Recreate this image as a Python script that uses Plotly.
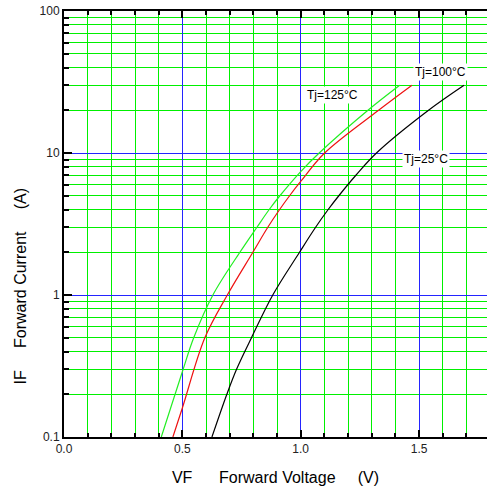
import math
import plotly.graph_objects as go

# Forward voltage (V) / forward current (A)
vf_125 = [0.411, 0.50, 0.548, 0.629, 0.743, 0.815, 0.867, 0.912, 1.0, 1.078, 1.284, 1.418]
if_125 = [0.1, 0.288, 0.5, 1.0, 2.0, 3.0, 4.0, 5.0, 7.4, 10.0, 20.0, 30.0]

vf_100 = [0.460, 0.50, 0.595, 0.690, 0.798, 0.861, 0.911, 0.953, 1.0, 1.101, 1.329, 1.47]
if_100 = [0.1, 0.16, 0.5, 1.0, 2.0, 3.0, 4.0, 5.0, 6.3, 10.0, 20.0, 30.0]

vf_25 = [0.625, 0.688, 0.729, 0.792, 0.882, 0.995, 1.063, 1.116, 1.161, 1.234, 1.320, 1.540, 1.69]
if_25 = [0.1, 0.2, 0.3, 0.5, 1.0, 2.0, 3.0, 4.0, 5.0, 7.0, 10.0, 20.0, 30.0]

labels = ["Tj=125°C", "Tj=100°C", "Tj=25°C"]
label_x = [1.135, 1.591, 1.528]
label_y = [25.6, 37.2, 9.04]

# axis ticks / gridlines
x_minor = [round(0.1 * k, 1) for k in range(0, 18)]
x_major = [0.5, 1.0, 1.5]
x_labels = {0.0: "0.0", 0.5: "0.5", 1.0: "1.0", 1.5: "1.5"}
y_minor = [m * 10 ** e for e in (-1, 0, 1) for m in range(1, 10)] + [100]
y_major = [1, 10]
y_labels = {0.1: "0.1", 1: "1", 10: "10", 100: "100"}

FONT = "Liberation Sans, Arial, sans-serif"
GREEN = "#00f000"
BLUE = "#2424ff"
NB = "\u00a0"

fig = go.Figure()
for vx, iy, col in [(vf_125, if_125, "#22ee22"), (vf_100, if_100, "#ee1111"), (vf_25, if_25, "#000000")]:
    fig.add_trace(go.Scatter(x=vx, y=iy, mode="lines",
                             line=dict(color=col, width=1.2, shape="spline", smoothing=1.0),
                             showlegend=False, hoverinfo="skip"))
# helper (empty) trace so the overlay axes carrying the blue decade grid exist
fig.add_trace(go.Scatter(x=[None], y=[None], xaxis="x2", yaxis="y2", mode="lines",
                         showlegend=False, hoverinfo="skip"))

for t, ax_, ay_ in zip(labels, label_x, label_y):
    fig.add_annotation(x=ax_, y=math.log10(ay_), text=t, showarrow=False,
                       font=dict(family=FONT, size=12, color="#000"), bgcolor="white", borderpad=1)

fig.add_annotation(xref="paper", yref="paper", x=-0.103, y=(437 - 286) / 426,
                   xanchor="center", yanchor="middle", textangle=-90, showarrow=False,
                   text="IF" + NB * 5 + "Forward Current" + NB * 5 + "(A)",
                   font=dict(family=FONT, size=16, color="#000"))

fig.update_layout(
    width=487, height=493,
    margin=dict(l=64, r=0, t=11, b=56, autoexpand=False),
    paper_bgcolor="white", plot_bgcolor="white",
    font=dict(family=FONT, size=12, color="#222"),
    xaxis=dict(range=[0, 1.787], tickmode="array", tickvals=x_minor,
               ticktext=[x_labels.get(v, "") for v in x_minor], automargin=False,
               showgrid=True, gridcolor=GREEN, gridwidth=1, zeroline=False,
               showline=True, linecolor="black", linewidth=2, mirror="ticks",
               ticks="inside", ticklen=4, tickwidth=1.5, tickcolor="black",
               ticklabeloverflow="allow", tickfont=dict(size=12, color="#222"),
               title=dict(text="VF" + NB * 6 + "Forward Voltage" + NB * 5 + "(V)",
                          font=dict(size=16, color="#000"), standoff=16)),
    yaxis=dict(type="log", range=[-1, 2], tickmode="array", tickvals=y_minor,
               ticktext=[y_labels.get(v, "") for v in y_minor], automargin=False,
               showgrid=True, gridcolor=GREEN, gridwidth=1, zeroline=False,
               showline=True, linecolor="black", linewidth=2,
               ticks="inside", ticklen=5, tickwidth=1.5, tickcolor="black",
               ticklabeloverflow="allow", tickfont=dict(size=12, color="#222")),
    xaxis2=dict(overlaying="x", anchor="y2", side="bottom", range=[0, 1.787],
                tickmode="array", tickvals=x_major, showticklabels=False, automargin=False,
                showgrid=True, gridcolor=BLUE, gridwidth=1, zeroline=False,
                showline=False, mirror="ticks",
                ticks="inside", ticklen=7, tickwidth=2, tickcolor="black"),
    yaxis2=dict(overlaying="y", anchor="x2", side="left", type="log", range=[-1, 2],
                tickmode="array", tickvals=y_major, showticklabels=False, automargin=False,
                showgrid=True, gridcolor=BLUE, gridwidth=1, zeroline=False,
                showline=False, ticks="inside", ticklen=8, tickwidth=2, tickcolor="black"),
)

# remove the default 8px page margin so the 487x493 figure fills the window
fig.write_html("out.html", config={"displayModeBar": False},
               post_script="document.body.style.margin='0px';document.body.style.overflow='hidden';")
